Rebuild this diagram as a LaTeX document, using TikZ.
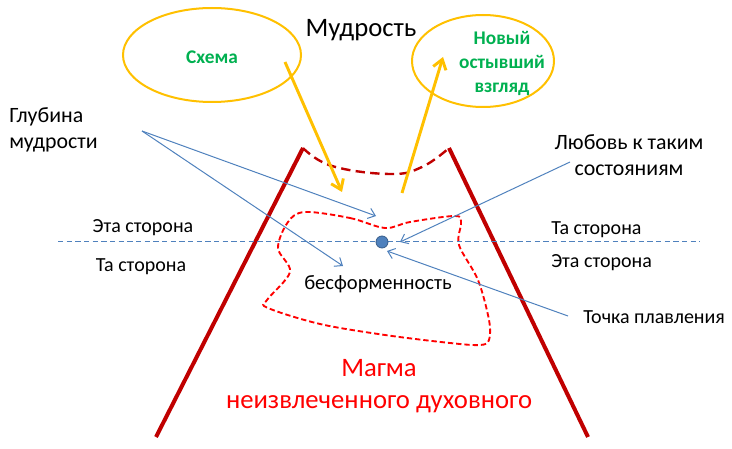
\documentclass[tikz,border=0pt]{standalone}
\usepackage{fontspec}
\setmainfont{Carlito}
\usetikzlibrary{arrows.meta}
\definecolor{cgreen}{HTML}{00B050}
\definecolor{cyel}{HTML}{FFC000}
\definecolor{cdred}{HTML}{C00000}
\definecolor{cred}{HTML}{FF0000}
\definecolor{cblue}{HTML}{4F81BD}
\definecolor{cbluedark}{HTML}{385D8A}
\begin{document}
\begin{tikzpicture}[x=0.75pt,y=-0.75pt,
  lbl/.style={inner sep=0pt,font=\fontsize{15pt}{18pt}\selectfont},
  biglbl/.style={inner sep=0pt,font=\fontsize{16.4pt}{19pt}\selectfont},
  grn/.style={inner sep=0pt,text=cgreen,font=\fontsize{14.5pt}{18pt}\selectfont\bfseries,align=center},
  yelline/.style={cyel,line width=1.5pt},
  yelarrow/.style={cyel,line width=2.2pt,-{Straight Barb[length=7pt,width=10pt]}},
  bluearrow/.style={cblue,line width=0.75pt,-{Straight Barb[length=5pt,width=8pt]}},
  wall/.style={cdred,line width=3pt},
]
\useasboundingbox (0,0) rectangle (732,449);

% ellipses
\draw[yelline] (212,55) ellipse [x radius=66.75pt, y radius=35.25pt];
\draw[yelline] (483,61) ellipse [x radius=53.25pt, y radius=34.5pt];
\node[grn] (schema) at (212,57) {Схема};
\node[grn] (novy) at (502,63) {Новый\\остывший\\взгляд};
\node[inner sep=0pt,font=\fontsize{20pt}{24pt}\selectfont] (mudr) at (361,30) {Мудрость};

% walls
\coordinate (lt) at (303,148);
\coordinate (lb) at (156,437);
\coordinate (rt) at (449,148);
\coordinate (rb) at (588,437);
\draw[wall] (lb) -- (lt);
\draw[wall] (rb) -- (rt);
\draw[cdred,line width=1.8pt,dash pattern=on 7pt off 4pt]
  plot[smooth,tension=0.7] coordinates {(303,148) (332,166) (390,174) (422,167) (449,148)};

% yellow arrows
\coordinate (ya1) at (285,62);
\coordinate (ya1e) at (342,192);
\coordinate (ya2) at (402,193);
\coordinate (ya2e) at (443,57);
\draw[yelarrow] (ya1) -- (ya1e);
\draw[yelarrow] (ya2) -- (ya2e);

% blob
\draw[cred,line width=1.4pt,dash pattern=on 4pt off 2.2pt]
  plot[smooth cycle,tension=0.55] coordinates {(305,212) (350,218) (385,228) (410,222) (455,216) (461,223) (459,245) (478,280) (489,320) (489,340) (480,345) (450,343) (385,335) (320,324) (268,308) (267,300) (290,272) (278,248) (288,222)};

% horizon
\draw[cblue,line width=0.75pt,dash pattern=on 4pt off 2.5pt] (58,242) -- (700,242);
\node[circle,fill=cblue,draw=cbluedark,line width=0.6pt,minimum size=9pt,inner sep=0pt] (dot) at (382,242) {};

% labels
\node[biglbl,align=left,anchor=west] (glub) at (9,130) {Глубина\\мудрости};
\node[lbl] (eta1) at (143,228) {Эта сторона};
\node[lbl] (ta1) at (141,267) {Та сторона};
\node[inner sep=0pt,font=\fontsize{15.4pt}{19pt}\selectfont] (besf) at (378,284) {бесформенность};
\node[biglbl,align=center] (lub) at (629,155) {Любовь к таким\\состояниям};
\node[lbl,anchor=west] (ta2) at (551,230) {Та сторона};
\node[lbl,anchor=west] (eta2) at (551,263) {Эта сторона};
\node[lbl,anchor=west] (tochka) at (583,317) {Точка плавления};
\node[inner sep=0pt,text=cred,align=center,font=\fontsize{20pt}{24pt}\selectfont] (magma) at (379,386) {Магма\\неизвлеченного духовного};

% blue arrows
\coordinate (g0) at (142,131);
\coordinate (g1) at (376,216);
\coordinate (g2) at (343,266);
\coordinate (l0) at (570,162);
\coordinate (l1) at (400,242);
\coordinate (t0) at (568,316);
\coordinate (t1) at (387,251);
\draw[bluearrow] (g0) -- (g1);
\draw[bluearrow] (g0) -- (g2);
\draw[bluearrow] (l0) -- (l1);
\draw[bluearrow] (t0) -- (t1);
\end{tikzpicture}
\end{document}
